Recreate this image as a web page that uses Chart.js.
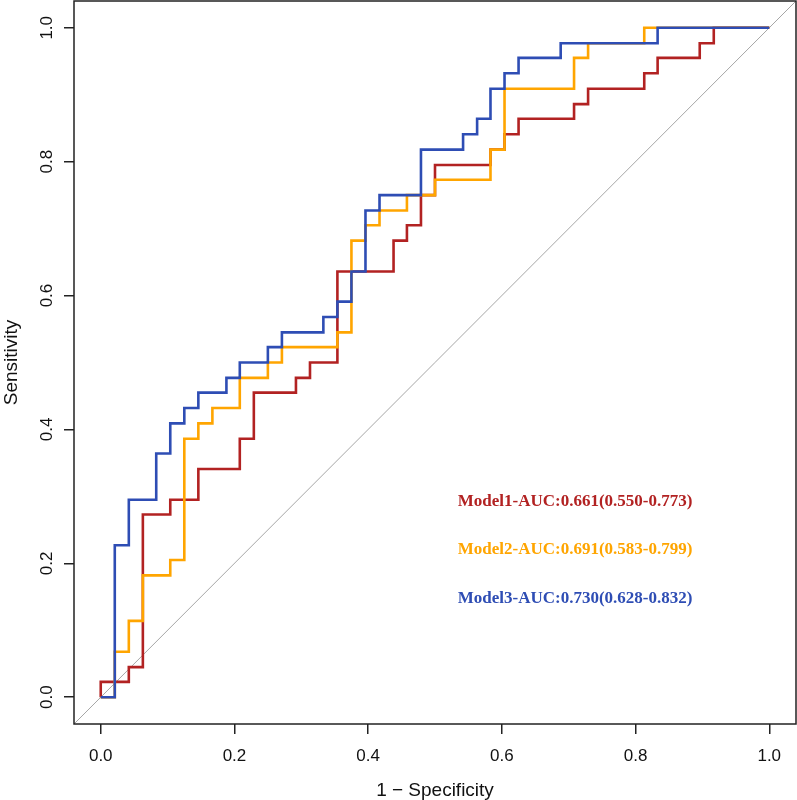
<!DOCTYPE html>
<html>
<head>
<meta charset="utf-8">
<script src="https://cdn.jsdelivr.net/npm/chart.js@4/dist/chart.umd.min.js"></script>
<style>
  html, body { margin: 0; padding: 0; background: #fff; }
  #roc { display: block; }
</style>
</head>
<body>
<canvas id="roc" width="797" height="800"></canvas>
<script>
// ROC curve corner points (1 - specificity, sensitivity)
const model1Fpr = [0, 0.042, 0.063, 0.104, 0.146, 0.208, 0.229, 0.292, 0.313, 0.354, 0.438, 0.458, 0.479, 0.5, 0.583, 0.604, 0.625, 0.708, 0.729, 0.813, 0.833, 0.896, 0.917, 1];
const model1Tpr = [0, 0.023, 0.045, 0.273, 0.295, 0.341, 0.386, 0.455, 0.477, 0.5, 0.636, 0.682, 0.705, 0.75, 0.795, 0.818, 0.841, 0.864, 0.886, 0.909, 0.932, 0.955, 0.977, 1];

const model2Fpr = [0, 0.021, 0.042, 0.063, 0.104, 0.125, 0.146, 0.167, 0.208, 0.25, 0.271, 0.354, 0.375, 0.396, 0.417, 0.458, 0.5, 0.583, 0.604, 0.708, 0.729, 0.813, 1];
const model2Tpr = [0, 0, 0.068, 0.114, 0.182, 0.205, 0.386, 0.409, 0.432, 0.477, 0.5, 0.523, 0.545, 0.682, 0.705, 0.727, 0.75, 0.773, 0.818, 0.909, 0.955, 0.977, 1];

const model3Fpr = [0, 0.021, 0.042, 0.083, 0.104, 0.125, 0.146, 0.188, 0.208, 0.25, 0.271, 0.333, 0.354, 0.375, 0.396, 0.417, 0.479, 0.542, 0.563, 0.583, 0.604, 0.625, 0.688, 0.833, 1];
const model3Tpr = [0, 0, 0.227, 0.295, 0.364, 0.409, 0.432, 0.455, 0.477, 0.5, 0.523, 0.545, 0.568, 0.591, 0.636, 0.727, 0.75, 0.818, 0.841, 0.864, 0.909, 0.932, 0.955, 0.977, 1];

const modelLabels = ['Model1-AUC:0.661(0.550-0.773)', 'Model2-AUC:0.691(0.583-0.799)', 'Model3-AUC:0.730(0.628-0.832)'];
const modelColors = ['#B22222', '#FFA500', '#2E4DB4'];

// chance line, runs corner to corner of the plot box
const diagX = [-0.1, 1.1];
const diagY = [-0.1, 1.1];

const tickVals = [0, 0.2, 0.4, 0.6, 0.8, 1.0];

function pts(xs, ys) {
  return xs.map((x, i) => ({ x: x, y: ys[i] }));
}

const curves = [
  [model1Fpr, model1Tpr],
  [model2Fpr, model2Tpr],
  [model3Fpr, model3Tpr]
];

const datasets = curves.map((c, i) => ({
  label: modelLabels[i],
  data: pts(c[0], c[1]),
  borderColor: modelColors[i],
  borderWidth: 2.6,
  stepped: 'after',
  showLine: true,
  pointRadius: 0,
  fill: false,
  order: 3 - i
}));

datasets.push({
  label: 'diag',
  data: pts(diagX, diagY),
  borderColor: '#a6a6a6',
  borderWidth: 1,
  showLine: true,
  pointRadius: 0,
  fill: false,
  order: 10
});

// box round the plot region
const boxPlugin = {
  id: 'box',
  afterDraw(chart) {
    const { ctx, chartArea: a } = chart;
    ctx.save();
    ctx.strokeStyle = '#222';
    ctx.lineWidth = 1.5;
    ctx.strokeRect(a.left, a.top, a.right - a.left, a.bottom - a.top);
    ctx.restore();
  }
};

// y tick labels, turned to read upward as in the original
const yLabelPlugin = {
  id: 'yLabels',
  afterDraw(chart) {
    const { ctx } = chart;
    const ys = chart.scales.y;
    ctx.save();
    ctx.fillStyle = '#111';
    ctx.font = '17px "Liberation Sans", Arial, sans-serif';
    ctx.textAlign = 'center';
    ctx.textBaseline = 'alphabetic';
    tickVals.forEach(v => {
      ctx.save();
      ctx.translate(52, ys.getPixelForValue(v));
      ctx.rotate(-Math.PI / 2);
      ctx.fillText(v.toFixed(1), 0, 0);
      ctx.restore();
    });
    ctx.restore();
  }
};

// AUC text in the lower right
const aucPlugin = {
  id: 'aucText',
  afterDraw(chart) {
    const { ctx } = chart;
    const xs = chart.scales.x, ys = chart.scales.y;
    const rows = [0.2856, 0.2132, 0.1407];
    ctx.save();
    ctx.font = 'bold 17px "Liberation Serif", "Times New Roman", serif';
    ctx.textAlign = 'left';
    ctx.textBaseline = 'alphabetic';
    modelLabels.forEach((t, i) => {
      ctx.fillStyle = modelColors[i];
      ctx.fillText(t, xs.getPixelForValue(0.534), ys.getPixelForValue(rows[i]));
    });
    ctx.restore();
  }
};

const axisFont = { family: '"Liberation Sans", Arial, sans-serif', size: 17 };
const titleFont = { family: '"Liberation Sans", Arial, sans-serif', size: 19 };

new Chart(document.getElementById('roc').getContext('2d'), {
  type: 'scatter',
  data: { datasets: datasets },
  options: {
    responsive: false,
    animation: false,
    devicePixelRatio: 1,
    layout: { padding: { top: 1, right: 1, left: 0, bottom: 0 } },
    plugins: {
      legend: { display: false },
      tooltip: { enabled: false }
    },
    scales: {
      x: {
        type: 'linear',
        min: -0.04,
        max: 1.04,
        afterBuildTicks: s => { s.ticks = tickVals.map(v => ({ value: v })); },
        afterFit: s => { s.height = 76; },
        border: { display: false },
        grid: { drawOnChartArea: false, drawTicks: true, tickLength: 10, color: '#222', lineWidth: 1.5 },
        ticks: {
          color: '#111',
          font: axisFont,
          padding: 12,
          maxRotation: 0,
          callback: v => Number(v).toFixed(1)
        },
        title: {
          display: true,
          text: '1 \u2212 Specificity',
          color: '#111',
          font: titleFont,
          padding: { top: 0, bottom: -2 }
        }
      },
      y: {
        type: 'linear',
        min: -0.04,
        max: 1.04,
        afterBuildTicks: s => { s.ticks = tickVals.map(v => ({ value: v })); },
        afterFit: s => { s.width = 74; },
        border: { display: false },
        grid: { drawOnChartArea: false, drawTicks: true, tickLength: 10, color: '#222', lineWidth: 1.5 },
        ticks: { display: false },
        title: {
          display: true,
          text: 'Sensitivity',
          color: '#111',
          font: titleFont,
          padding: { top: 0, bottom: 0 }
        }
      }
    }
  },
  plugins: [boxPlugin, yLabelPlugin, aucPlugin]
});
</script>
</body>
</html>
